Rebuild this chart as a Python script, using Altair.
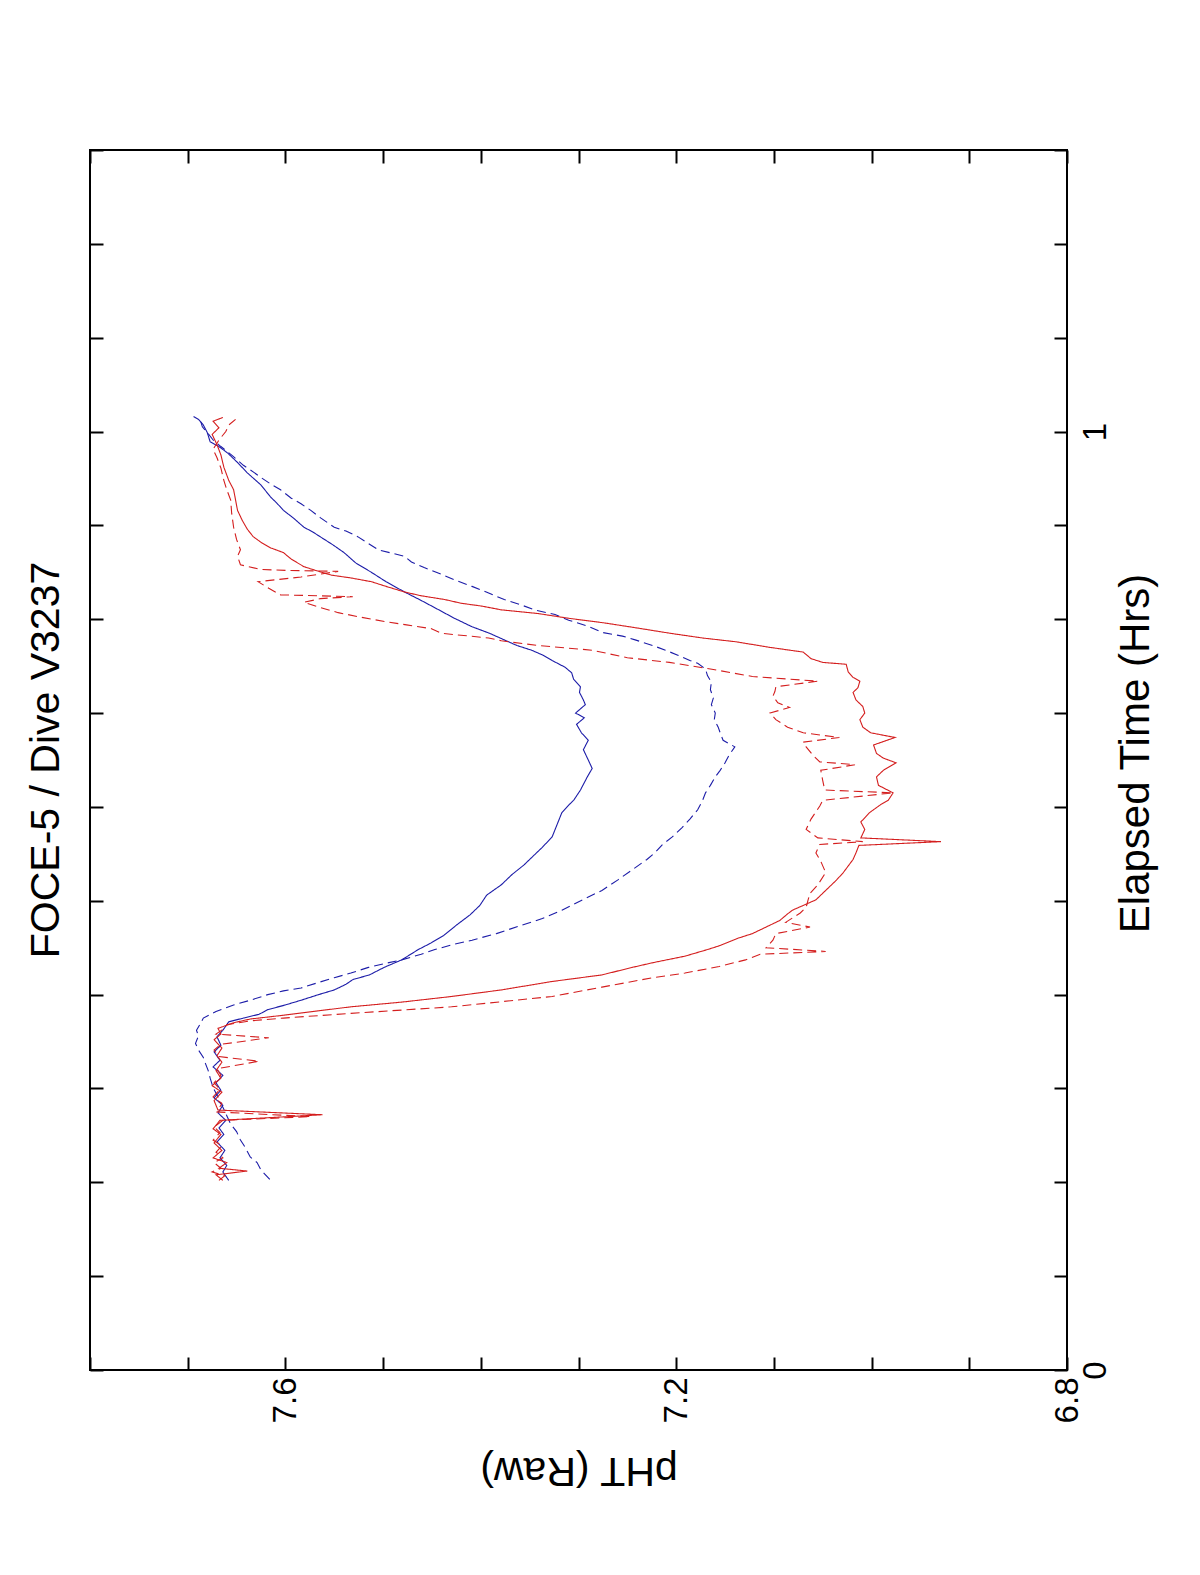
import altair as alt
import pandas as pd

FONT = "Liberation Sans, Arial, sans-serif"

# ---- series values: elapsed time (hrs) and raw pH_T ----
bs_t = [0.202, 0.211, 0.218, 0.226, 0.234, 0.243, 0.251, 0.258, 0.266, 0.274,
        0.282, 0.290, 0.298, 0.306, 0.314, 0.323, 0.330, 0.339, 0.346, 0.355,
        0.362, 0.371, 0.375, 0.379, 0.384, 0.389, 0.394, 0.400, 0.405, 0.411,
        0.416, 0.421, 0.429, 0.437, 0.448, 0.455, 0.463, 0.474, 0.485, 0.495,
        0.506, 0.517, 0.528, 0.538, 0.546, 0.557, 0.568, 0.581, 0.594, 0.603,
        0.607, 0.618, 0.632, 0.641, 0.650, 0.661, 0.671, 0.679, 0.688, 0.695,
        0.700, 0.709, 0.714, 0.722, 0.728, 0.736, 0.743, 0.749, 0.756, 0.762,
        0.767, 0.772, 0.778, 0.785, 0.792, 0.801, 0.810, 0.820, 0.829, 0.840,
        0.850, 0.860, 0.871, 0.879, 0.885, 0.893, 0.898, 0.908, 0.916, 0.924,
        0.930, 0.943, 0.956, 0.967, 0.977, 0.984, 0.989, 0.999, 1.007, 1.013,
        1.016]
bs_ph = [7.658, 7.664, 7.660, 7.667, 7.662, 7.670, 7.663, 7.668, 7.661, 7.669,
         7.664, 7.673, 7.666, 7.671, 7.664, 7.674, 7.667, 7.673, 7.666, 7.670,
         7.664, 7.658, 7.643, 7.627, 7.618, 7.600, 7.584, 7.566, 7.550, 7.538,
         7.531, 7.514, 7.499, 7.481, 7.464, 7.451, 7.438, 7.425, 7.411, 7.401,
         7.394, 7.379, 7.368, 7.356, 7.348, 7.337, 7.327, 7.322, 7.317, 7.309,
         7.305, 7.298, 7.291, 7.286, 7.290, 7.295, 7.290, 7.297, 7.302, 7.294,
         7.303, 7.293, 7.295, 7.299, 7.298, 7.305, 7.307, 7.314, 7.327, 7.337,
         7.348, 7.363, 7.376, 7.391, 7.409, 7.427, 7.443, 7.461, 7.478, 7.497,
         7.512, 7.528, 7.540, 7.551, 7.560, 7.572, 7.581, 7.592, 7.602, 7.609,
         7.615, 7.625, 7.639, 7.649, 7.659, 7.668, 7.677, 7.680, 7.684, 7.689,
         7.694]

bd_t = [0.203, 0.213, 0.221, 0.227, 0.237, 0.245, 0.254, 0.262, 0.271, 0.280,
        0.289, 0.301, 0.311, 0.319, 0.327, 0.333, 0.341, 0.348, 0.356, 0.362,
        0.369, 0.375, 0.382, 0.389, 0.394, 0.400, 0.404, 0.407, 0.413, 0.418,
        0.423, 0.429, 0.433, 0.437, 0.443, 0.448, 0.453, 0.458, 0.465, 0.474,
        0.481, 0.490, 0.501, 0.511, 0.522, 0.533, 0.544, 0.552, 0.560, 0.568,
        0.578, 0.587, 0.597, 0.607, 0.615, 0.623, 0.632, 0.639, 0.647, 0.655,
        0.664, 0.671, 0.679, 0.685, 0.693, 0.700, 0.709, 0.716, 0.725, 0.733,
        0.740, 0.747, 0.753, 0.756, 0.762, 0.767, 0.772, 0.778, 0.782, 0.786,
        0.792, 0.799, 0.805, 0.810, 0.815, 0.821, 0.828, 0.835, 0.842, 0.849,
        0.855, 0.861, 0.867, 0.874, 0.882, 0.888, 0.894, 0.898, 0.908, 0.916,
        0.923, 0.929, 0.938, 0.944, 0.951, 0.957, 0.964, 0.974, 0.984, 0.991,
        0.999, 1.005, 1.012]
bd_ph = [7.616, 7.625, 7.629, 7.636, 7.641, 7.646, 7.650, 7.656, 7.660, 7.664,
         7.668, 7.674, 7.677, 7.679, 7.682, 7.684, 7.689, 7.692, 7.689, 7.691,
         7.687, 7.684, 7.671, 7.653, 7.636, 7.618, 7.602, 7.584, 7.566, 7.550,
         7.533, 7.515, 7.499, 7.481, 7.461, 7.447, 7.430, 7.409, 7.384, 7.358,
         7.337, 7.317, 7.296, 7.276, 7.260, 7.245, 7.230, 7.221, 7.214, 7.204,
         7.194, 7.186, 7.178, 7.173, 7.170, 7.165, 7.160, 7.155, 7.150, 7.146,
         7.140, 7.152, 7.155, 7.157, 7.161, 7.160, 7.164, 7.162, 7.165, 7.164,
         7.168, 7.170, 7.178, 7.186, 7.199, 7.211, 7.224, 7.242, 7.255, 7.276,
         7.289, 7.310, 7.324, 7.345, 7.358, 7.376, 7.392, 7.409, 7.427, 7.443,
         7.458, 7.471, 7.478, 7.505, 7.517, 7.526, 7.538, 7.550, 7.564, 7.574,
         7.584, 7.594, 7.605, 7.615, 7.625, 7.633, 7.643, 7.654, 7.666, 7.674,
         7.680, 7.685, 7.687]

rs_t = [0.202, 0.208, 0.212, 0.215, 0.221, 0.226, 0.234, 0.242, 0.251, 0.257,
        0.266, 0.272, 0.277, 0.287, 0.296, 0.303, 0.311, 0.319, 0.328, 0.335,
        0.343, 0.352, 0.358, 0.364, 0.370, 0.374, 0.378, 0.383, 0.387, 0.392,
        0.398, 0.405, 0.414, 0.421, 0.429, 0.434, 0.441, 0.448, 0.452, 0.460,
        0.465, 0.473, 0.479, 0.486, 0.490, 0.495, 0.501, 0.508, 0.515, 0.522,
        0.530, 0.537, 0.544, 0.551, 0.559, 0.563, 0.567, 0.576, 0.584, 0.594,
        0.603, 0.607, 0.615, 0.623, 0.632, 0.639, 0.647, 0.652, 0.657, 0.666,
        0.674, 0.679, 0.685, 0.693, 0.700, 0.707, 0.714, 0.722, 0.727, 0.734,
        0.738, 0.744, 0.752, 0.754, 0.758, 0.765, 0.770, 0.776, 0.780, 0.785,
        0.791, 0.796, 0.801, 0.806, 0.810, 0.814, 0.817, 0.821, 0.825, 0.829,
        0.835, 0.840, 0.844, 0.847, 0.852, 0.856, 0.864, 0.871, 0.876, 0.882,
        0.888, 0.896, 0.905, 0.916, 0.927, 0.938, 0.948, 0.962, 0.975, 0.986,
        0.997, 1.004, 1.011, 1.015]
rs_ph = [7.664, 7.671, 7.639, 7.668, 7.660, 7.674, 7.665, 7.673, 7.666, 7.674,
         7.667, 7.562, 7.669, 7.673, 7.665, 7.675, 7.666, 7.671, 7.665, 7.670,
         7.665, 7.673, 7.666, 7.669, 7.653, 7.636, 7.602, 7.564, 7.533, 7.481,
         7.430, 7.379, 7.327, 7.276, 7.245, 7.224, 7.191, 7.168, 7.156, 7.137,
         7.122, 7.106, 7.094, 7.086, 7.081, 7.070, 7.057, 7.050, 7.043, 7.036,
         7.029, 7.024, 7.019, 7.016, 7.013, 6.929, 7.011, 7.007, 7.011, 7.002,
         6.990, 6.983, 6.978, 6.993, 6.995, 6.988, 6.975, 6.988, 6.995, 6.998,
         6.976, 7.001, 7.009, 7.012, 7.007, 7.009, 7.016, 7.019, 7.014, 7.012,
         7.019, 7.024, 7.026, 7.050, 7.062, 7.070, 7.104, 7.139, 7.173, 7.206,
         7.242, 7.273, 7.310, 7.341, 7.379, 7.399, 7.420, 7.437, 7.461, 7.478,
         7.497, 7.512, 7.533, 7.553, 7.569, 7.581, 7.594, 7.602, 7.615, 7.625,
         7.633, 7.639, 7.644, 7.649, 7.651, 7.653, 7.658, 7.663, 7.666, 7.670,
         7.675, 7.668, 7.674, 7.664]

rd_t = [0.202, 0.207, 0.211, 0.215, 0.221, 0.226, 0.232, 0.239, 0.245, 0.253,
        0.259, 0.266, 0.270, 0.275, 0.284, 0.291, 0.299, 0.306, 0.314, 0.321,
        0.329, 0.334, 0.341, 0.347, 0.354, 0.358, 0.363, 0.368, 0.372, 0.375,
        0.380, 0.387, 0.398, 0.408, 0.418, 0.423, 0.430, 0.437, 0.443, 0.446,
        0.450, 0.458, 0.465, 0.472, 0.477, 0.487, 0.493, 0.501, 0.508, 0.517,
        0.530, 0.542, 0.551, 0.560, 0.563, 0.567, 0.576, 0.587, 0.601, 0.607,
        0.615, 0.618, 0.628, 0.639, 0.645, 0.648, 0.655, 0.664, 0.669, 0.674,
        0.679, 0.685, 0.693, 0.700, 0.706, 0.711, 0.718, 0.723, 0.728, 0.734,
        0.739, 0.747, 0.754, 0.759, 0.767, 0.772, 0.777, 0.780, 0.785, 0.790,
        0.794, 0.797, 0.802, 0.807, 0.813, 0.818, 0.822, 0.824, 0.826, 0.833,
        0.840, 0.845, 0.851, 0.852, 0.853, 0.858, 0.867, 0.874, 0.885, 0.898,
        0.913, 0.927, 0.938, 0.948, 0.961, 0.972, 0.981, 0.991, 1.000, 1.007,
        1.013]
rd_ph = [7.668, 7.662, 7.675, 7.666, 7.673, 7.664, 7.671, 7.665, 7.674, 7.667,
         7.673, 7.664, 7.574, 7.670, 7.665, 7.674, 7.667, 7.673, 7.666, 7.670,
         7.627, 7.668, 7.673, 7.666, 7.617, 7.671, 7.664, 7.660, 7.636, 7.602,
         7.533, 7.430, 7.327, 7.276, 7.224, 7.191, 7.156, 7.129, 7.114, 7.047,
         7.108, 7.101, 7.098, 7.063, 7.088, 7.073, 7.067, 7.065, 7.063, 7.055,
         7.047, 7.052, 7.057, 7.053, 7.009, 7.055, 7.067, 7.062, 7.053, 7.050,
         6.978, 7.048, 7.050, 7.052, 7.017, 7.053, 7.060, 7.067, 7.070, 7.033,
         7.070, 7.086, 7.098, 7.104, 7.084, 7.096, 7.101, 7.099, 7.098, 7.055,
         7.122, 7.165, 7.207, 7.250, 7.286, 7.341, 7.379, 7.392, 7.440, 7.451,
         7.476, 7.495, 7.522, 7.546, 7.566, 7.581, 7.564, 7.531, 7.605, 7.617,
         7.628, 7.584, 7.546, 7.597, 7.625, 7.646, 7.649, 7.646, 7.650, 7.653,
         7.655, 7.656, 7.660, 7.663, 7.666, 7.670, 7.674, 7.668, 7.661, 7.658,
         7.651]

series_names = ["Blue solid", "Blue dashed", "Red solid", "Red dashed"]
series_colors = ["#1c1ca8", "#1c1ca8", "#d41e1e", "#d41e1e"]
series_dash = [[1, 0], [9, 5], [1, 0], [9, 5]]

ph_ticks = [6.8, 6.9, 7.0, 7.1, 7.2, 7.3, 7.4, 7.5, 7.6, 7.7, 7.8]
t_ticks = [0, 0.1, 0.2, 0.3, 0.4, 0.5, 0.6, 0.7, 0.8, 0.9, 1, 1.1, 1.2, 1.3]

rows = []
for name, ts, ps in zip(series_names, [bs_t, bd_t, rs_t, rd_t], [bs_ph, bd_ph, rs_ph, rd_ph]):
    assert len(ts) == len(ps), (name, len(ts), len(ps))
    for i, (t, p) in enumerate(zip(ts, ps)):
        rows.append({"series": name, "t": t, "ph": p, "i": i})
df = pd.DataFrame(rows)

W, H = 977, 1220
IN = 13  # inward tick length

x_scale = alt.Scale(domain=[6.8, 7.8], reverse=True, nice=False, zero=False)
y_scale = alt.Scale(domain=[0, 1.3], nice=False, zero=False)

tick_common = dict(offset=-IN, tickSize=IN, tickWidth=2, tickColor="black",
                   domain=False, grid=False, labelOverlap=False, labelFlush=False)

x_axis = alt.Axis(
    orient="bottom", values=ph_ticks,
    labelExpr="indexof(['6.8','7.2','7.6'], format(datum.value, '.1f')) >= 0 ? format(datum.value, '.1f') : ''",
    labelAngle=270, labelAlign="right", labelBaseline="middle",
    labelFont=FONT, labelFontSize=33, labelColor="black", labelPadding=7,
    title="pHT (Raw)", titleAngle=180, titleFont=FONT, titleFontSize=41,
    titleFontWeight="normal", titleColor="black",
    titleX=W / 2, titleY=100, titleAlign="center", titleBaseline="alphabetic",
    **tick_common)

y_axis = alt.Axis(
    orient="right", values=t_ticks,
    labelExpr="datum.value == 0 ? '0' : (datum.value == 1 ? '1' : '')",
    labelAngle=270, labelAlign="center", labelBaseline="top",
    labelFont=FONT, labelFontSize=33, labelColor="black", labelPadding=12,
    title="Elapsed Time (Hrs)", titleAngle=270, titleFont=FONT, titleFontSize=42,
    titleFontWeight="normal", titleColor="black",
    titleX=94, titleY=603, titleAlign="center", titleBaseline="alphabetic",
    **tick_common)

lines = alt.Chart(df).mark_line(strokeWidth=1.1, clip=True).encode(
    x=alt.X("ph:Q", scale=x_scale, axis=x_axis),
    y=alt.Y("t:Q", scale=y_scale, axis=y_axis),
    color=alt.Color("series:N", scale=alt.Scale(domain=series_names, range=series_colors), legend=None),
    strokeDash=alt.StrokeDash("series:N", scale=alt.Scale(domain=series_names, range=series_dash), legend=None),
    detail="series:N",
    order=alt.Order("i:Q"),
)

ghost = alt.Chart(df).mark_line(strokeOpacity=0).encode(
    x=alt.X("ph:Q", scale=x_scale,
            axis=alt.Axis(orient="top", values=ph_ticks, labels=False, title=None, **tick_common)),
    y=alt.Y("t:Q", scale=y_scale,
            axis=alt.Axis(orient="left", values=t_ticks, labels=False, title=None, **tick_common)),
    detail="series:N",
    order=alt.Order("i:Q"),
)

chart = alt.layer(lines, ghost).resolve_axis(x="independent", y="independent").properties(
    width=W, height=H,
    title=alt.TitleParams("FOCE-5 / Dive V3237", orient="left", anchor="middle",
                          font=FONT, fontSize=41, fontWeight="normal", color="black", offset=6),
    autosize=alt.AutoSizeParams(type="none"),
    padding={"left": 82, "top": 142, "right": 110, "bottom": 190},
    background="white",
).configure_view(stroke="black", strokeWidth=2)

chart.save("out.html", embed_options={"renderer": "svg", "actions": False})
